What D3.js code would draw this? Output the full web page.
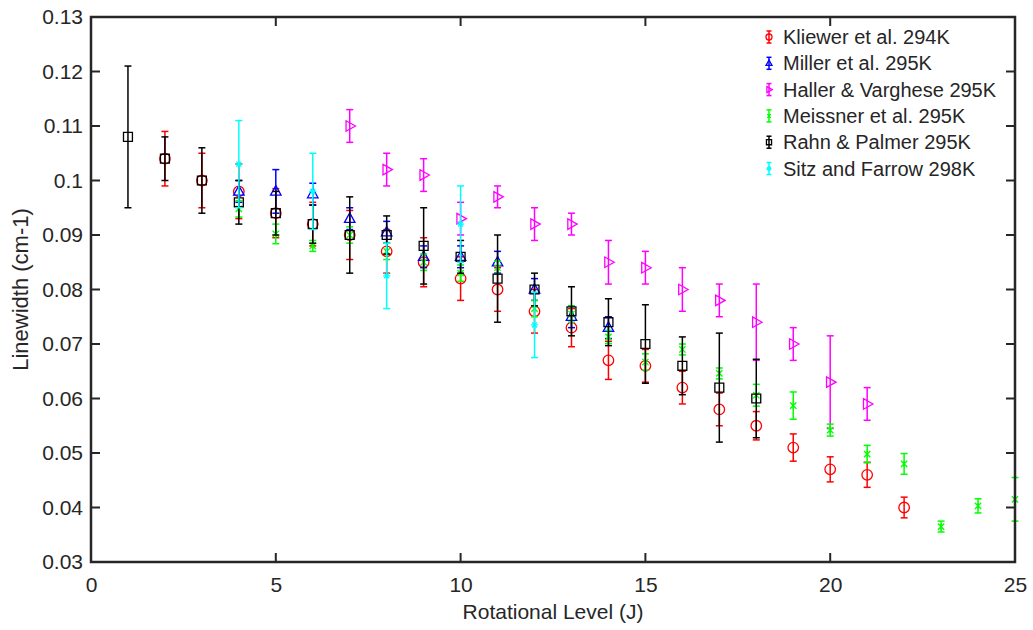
<!DOCTYPE html>
<html><head><meta charset="utf-8">
<script src="https://cdn.jsdelivr.net/npm/d3@7"></script>
<style>body{margin:0;background:#fff;} text{font-family:"Liberation Sans",Arial,sans-serif;fill:#262626;}</style>
</head><body>
<svg id="c" width="1033" height="630"></svg>
<script>
// ---- data ----
const xTicks = [0,5,10,15,20,25];
const yTicks = [0.03,0.04,0.05,0.06,0.07,0.08,0.09,0.1,0.11,0.12,0.13];
const seriesNames = ["Kliewer et al. 294K","Miller et al. 295K","Haller & Varghese 295K","Meissner et al. 295K","Rahn & Palmer 295K","Sitz and Farrow 298K"];
const seriesColors = ["#ff0000","#0000ff","#ff00ff","#00ff00","#000000","#00ffff"];
const seriesMarkers = ["circle","triUp","triRight","x","square","star"];

const kliewerJ = [2,3,4,5,6,7,8,9,10,11,12,13,14,15,16,17,18,19,20,21,22];
const kliewerW = [0.104,0.100,0.098,0.094,0.092,0.090,0.087,0.085,0.082,0.080,0.076,0.073,0.067,0.066,0.062,0.058,0.055,0.051,0.047,0.046,0.040];
const kliewerE = [0.005,0.005,0.005,0.0045,0.004,0.0045,0.004,0.0045,0.004,0.004,0.004,0.0035,0.0035,0.003,0.003,0.003,0.0026,0.0025,0.0023,0.0023,0.0019];

const millerJ = [4,5,6,7,8,9,10,11,12,13,14];
const millerW = [0.098,0.098,0.0975,0.093,0.0905,0.086,0.086,0.085,0.080,0.075,0.073];
const millerE = [0.002,0.004,0.002,0.002,0.002,0.002,0.002,0.002,0.002,0.002,0.002];

const hallerJ = [7,8,9,10,11,12,13,14,15,16,17,18,19,20,21];
const hallerW = [0.110,0.102,0.101,0.093,0.097,0.092,0.092,0.085,0.084,0.080,0.078,0.074,0.070,0.063,0.059];
const hallerE = [0.003,0.003,0.003,0.003,0.002,0.003,0.002,0.004,0.003,0.004,0.003,0.007,0.003,0.0085,0.003];

const meissnerJ = [4,5,6,7,8,9,10,11,12,13,14,15,16,17,18,19,20,21,22,23,24,25];
const meissnerW = [0.0948,0.0902,0.088,0.090,0.087,0.085,0.083,0.084,0.0765,0.0755,0.0713,0.0667,0.069,0.0646,0.0606,0.0587,0.0542,0.0498,0.048,0.0365,0.0403,0.0415];
const meissnerE = [0.0015,0.0018,0.001,0.0015,0.0015,0.0015,0.0015,0.0012,0.0015,0.0015,0.0012,0.0015,0.001,0.001,0.002,0.0025,0.0011,0.0016,0.0019,0.001,0.0013,0.004];

const rahnJ = [1,2,3,4,5,6,7,8,9,10,11,12,13,14,15,16,17,18];
const rahnW = [0.108,0.104,0.100,0.096,0.094,0.092,0.090,0.090,0.088,0.086,0.082,0.080,0.076,0.074,0.070,0.066,0.062,0.060];
const rahnE = [0.013,0.004,0.006,0.004,0.004,0.0035,0.007,0.0035,0.007,0.003,0.008,0.003,0.0045,0.0043,0.0072,0.0053,0.010,0.0072];

const sitzJ = [4,6,8,10,12];
const sitzW = [0.103,0.098,0.0825,0.092,0.0735];
const sitzE = [0.008,0.007,0.006,0.007,0.006];

const seriesJ = [kliewerJ,millerJ,hallerJ,meissnerJ,rahnJ,sitzJ];
const seriesW = [kliewerW,millerW,hallerW,meissnerW,rahnW,sitzW];
const seriesE = [kliewerE,millerE,hallerE,meissnerE,rahnE,sitzE];

// ---- layout ----
const L=91, R=1015, T=17, B=562;
const svg = d3.select("#c");
const x = d3.scaleLinear().domain([0,25]).range([L,R]);
const y = d3.scaleLinear().domain([0.03,0.13]).range([B,T]);
const axCol = "#262626";
const FONT = "'Liberation Sans',Arial,sans-serif";

function markerPath(type, s){
  const r=s/2;
  switch(type){
    case "circle": return `M${r},0A${r},${r} 0 1,1 ${-r},0A${r},${r} 0 1,1 ${r},0Z`;
    case "square": { const h=r*0.85; return `M${-h},${-h}H${h}V${h}H${-h}Z`; }
    case "triUp": return `M0,${-r*1.1}L${r},${r*0.7}L${-r},${r*0.7}Z`;
    case "triRight": return `M${r*1.1},0L${-r*0.7},${-r}L${-r*0.7},${r}Z`;
    case "x": { const h=r*0.6; return `M${-h},${-h}L${h},${h}M${-h},${h}L${h},${-h}M0,${-h}V${h}`; }
    case "star": { const h=r*0.8; const d=h*0.7; return `M${-h},0H${h}M0,${-h}V${h}M${-d},${-d}L${d},${d}M${-d},${d}L${d},${-d}`; }
  }
}

const plot = svg.append("g");
const cap = 3.5;
seriesNames.forEach((name,i)=>{
  const g = plot.append("g");
  const col = seriesColors[i];
  const pts = seriesJ[i].map((j,k)=>({j, w:seriesW[i][k], e:seriesE[i][k]}));
  pts.forEach(p=>{
    const px=x(p.j), y1=y(p.w+p.e), y2=y(p.w-p.e);
    g.append("line").attr("x1",px).attr("x2",px).attr("y1",y1).attr("y2",y2).attr("stroke",col).attr("stroke-width",1.5);
    g.append("line").attr("x1",px-cap).attr("x2",px+cap).attr("y1",y1).attr("y2",y1).attr("stroke",col).attr("stroke-width",1.5);
    g.append("line").attr("x1",px-cap).attr("x2",px+cap).attr("y1",y2).attr("y2",y2).attr("stroke",col).attr("stroke-width",1.5);
    g.append("path").attr("transform",`translate(${px},${y(p.w)})`).attr("d",markerPath(seriesMarkers[i], i==5?9:10.5))
      .attr("fill","none").attr("stroke",col).attr("stroke-width",1.3);
  });
});

// axes
const xAxis = d3.axisBottom(x).tickValues(xTicks).tickSize(0).tickPadding(15).tickFormat(d3.format("d"));
const yAxis = d3.axisLeft(y).tickValues(yTicks).tickSize(0).tickPadding(8).tickFormat(d=>String(+d.toFixed(2)));
const gx = svg.append("g").attr("transform",`translate(0,${B})`).call(xAxis);
const gy = svg.append("g").attr("transform",`translate(${L},0)`).call(yAxis);
[gx,gy].forEach(g=>{g.select(".domain").remove(); g.selectAll("text").attr("font-size",21).attr("fill",axCol).style("font-family",FONT);});

// ticks inside on all sides
const tk=9;
const ticksG = svg.append("g").attr("stroke",axCol).attr("stroke-width",2);
xTicks.forEach(t=>{
  ticksG.append("line").attr("x1",x(t)).attr("x2",x(t)).attr("y1",B).attr("y2",B-tk);
  ticksG.append("line").attr("x1",x(t)).attr("x2",x(t)).attr("y1",T).attr("y2",T+tk);
});
yTicks.forEach(t=>{
  ticksG.append("line").attr("x1",L).attr("x2",L+tk).attr("y1",y(t)).attr("y2",y(t));
  ticksG.append("line").attr("x1",R).attr("x2",R-tk).attr("y1",y(t)).attr("y2",y(t));
});
svg.append("rect").attr("x",L).attr("y",T).attr("width",R-L).attr("height",B-T).attr("fill","none").attr("stroke",axCol).attr("stroke-width",2.5);

// axis labels
svg.append("text").attr("x",(L+R)/2).attr("y",619).attr("text-anchor","middle").attr("font-size",21).text("Rotational Level (J)");
svg.append("text").attr("transform",`translate(28,${(T+B)/2}) rotate(-90)`).attr("text-anchor","middle").attr("font-size",22).text("Linewidth (cm-1)");

// legend
const leg = svg.append("g");
seriesNames.forEach((name,i)=>{
  const yy = 37 + i*26.3, xx=769, col=seriesColors[i];
  leg.append("line").attr("x1",xx).attr("x2",xx).attr("y1",yy-6).attr("y2",yy+6).attr("stroke",col).attr("stroke-width",1.5);
  leg.append("line").attr("x1",xx-2.5).attr("x2",xx+2.5).attr("y1",yy-6).attr("y2",yy-6).attr("stroke",col).attr("stroke-width",1.5);
  leg.append("line").attr("x1",xx-2.5).attr("x2",xx+2.5).attr("y1",yy+6).attr("y2",yy+6).attr("stroke",col).attr("stroke-width",1.5);
  leg.append("path").attr("transform",`translate(${xx},${yy})`).attr("d",markerPath(seriesMarkers[i],6)).attr("fill","none").attr("stroke",col).attr("stroke-width",1.3);
  leg.append("text").attr("x",783).attr("y",yy+7).attr("font-size",20).text(name);
});
</script>
</body></html>
